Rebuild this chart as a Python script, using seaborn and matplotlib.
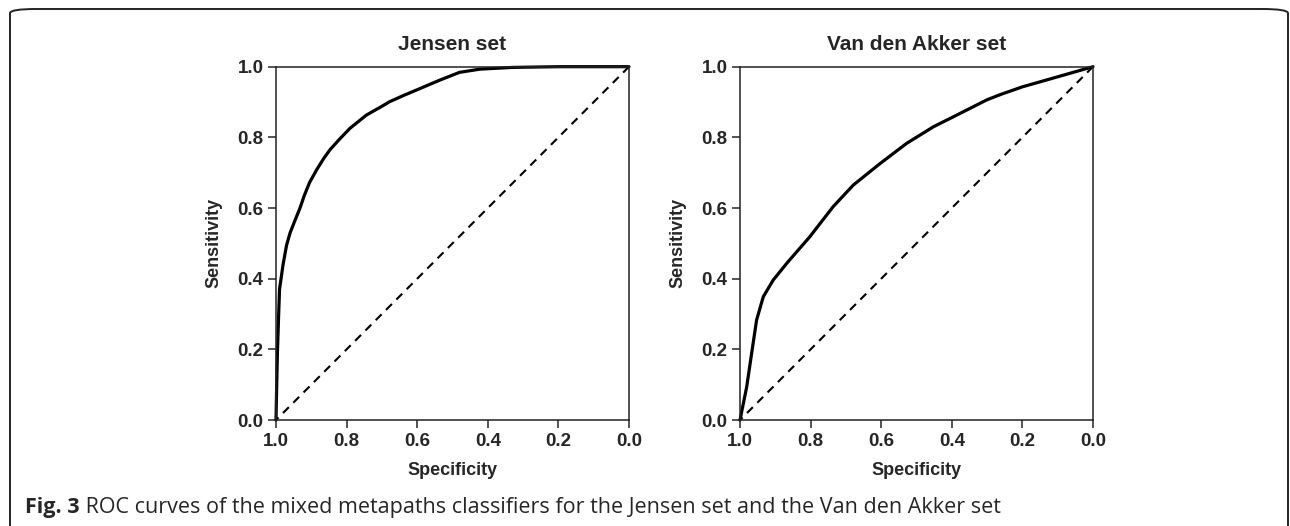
import matplotlib
import matplotlib.pyplot as plt
import pandas as pd
import seaborn as sns
from matplotlib.patches import FancyBboxPatch

matplotlib.use('Agg')

# ROC curve points (specificity, sensitivity)
jensen_spec = [1.0, 0.998, 0.996, 0.993, 0.99, 0.98, 0.97, 0.96, 0.945, 0.932, 0.92, 0.905,
               0.885, 0.865, 0.847, 0.82, 0.79, 0.744, 0.70, 0.678, 0.64, 0.602, 0.536,
               0.48, 0.423, 0.33, 0.2, 0.0]
jensen_sens = [0.0, 0.10, 0.19, 0.283, 0.37, 0.44, 0.495, 0.53, 0.568, 0.60, 0.635, 0.672,
               0.708, 0.74, 0.765, 0.795, 0.826, 0.863, 0.888, 0.901, 0.918, 0.934, 0.962,
               0.984, 0.993, 0.998, 1.0, 1.0]

akker_spec = [1.0, 0.981, 0.967, 0.953, 0.934, 0.906, 0.868, 0.802, 0.736, 0.679, 0.603,
              0.528, 0.452, 0.396, 0.301, 0.26, 0.2, 0.14, 0.07, 0.0]
akker_sens = [0.0, 0.094, 0.189, 0.283, 0.349, 0.396, 0.443, 0.519, 0.604, 0.665, 0.726,
              0.783, 0.830, 0.858, 0.906, 0.922, 0.943, 0.96, 0.98, 1.0]

panel_titles = ["Jensen set", "Van den Akker set"]
ticks = [0.0, 0.2, 0.4, 0.6, 0.8, 1.0]
tick_labels = ["0.0", "0.2", "0.4", "0.6", "0.8", "1.0"]
caption_bold = "Fig. 3"
caption_text = " ROC curves of the mixed metapaths classifiers for the Jensen set and the Van den Akker set"

sns.set_style("ticks")
plt.rcParams['font.family'] = ['Liberation Sans', 'DejaVu Sans']
plt.rcParams['axes.linewidth'] = 1.1

fig = plt.figure(figsize=(12.9, 5.26), dpi=100)

# rounded frame around the panels
frame = FancyBboxPatch((10 / 1290, -0.05), 1278 / 1290, 1.05 - 9 / 526,
                       boxstyle="round,pad=0,rounding_size=0.02",
                       transform=fig.transFigure, fill=False,
                       edgecolor="#222222", linewidth=1.4, mutation_aspect=526 / 1290)
fig.patches.append(frame)

axes_pos = [[276 / 1290, 0.2015, 353 / 1290, 0.6717],
            [740 / 1290, 0.2015, 353 / 1290, 0.6717]]
curves = [(jensen_spec, jensen_sens), (akker_spec, akker_sens)]

for pos, (spec, sens), title in zip(axes_pos, curves, panel_titles):
    ax = fig.add_axes(pos)
    df = pd.DataFrame({"Specificity": spec, "Sensitivity": sens})
    sns.lineplot(data=df, x="Specificity", y="Sensitivity", ax=ax, sort=False,
                 color="black", linewidth=2.3, estimator=None, clip_on=False)
    diag = pd.DataFrame({"Specificity": [1.0, 0.0], "Sensitivity": [0.0, 1.0]})
    sns.lineplot(data=diag, x="Specificity", y="Sensitivity", ax=ax, color="black",
                 linewidth=1.5, linestyle=(0, (4, 3)), estimator=None)

    ax.set_xlim(1.0, 0.0)
    ax.set_ylim(0.0, 1.0)
    ax.set_xticks(ticks)
    ax.set_xticklabels(tick_labels)
    ax.set_yticks(ticks)
    ax.set_yticklabels(tick_labels)
    ax.tick_params(length=6, width=1.1, labelsize=13.5, pad=3)
    for lab in ax.get_xticklabels() + ax.get_yticklabels():
        lab.set_fontweight("bold")
    for sp in ax.spines.values():
        sp.set_visible(True)
        sp.set_color("#222222")

    ax.set_title(title, fontsize=15, fontweight="bold", pad=12)
    ax.set_xlabel("Specificity", fontsize=13, fontweight="bold", labelpad=9)
    ax.set_ylabel("Sensitivity", fontsize=13, fontweight="bold", labelpad=11)

# caption
t = fig.text(25 / 1290, 1 - 507 / 526, caption_bold, fontsize=15.5, fontweight="bold",
             family=["Open Sans", "DejaVu Sans"], va="center", ha="left")
fig.canvas.draw()
bb = t.get_window_extent()
fig.text(bb.x1 / 1290, 1 - 507 / 526, caption_text, fontsize=15.5,
         family=["Open Sans", "DejaVu Sans"], va="center", ha="left")

fig.savefig("out.png", dpi=100)
